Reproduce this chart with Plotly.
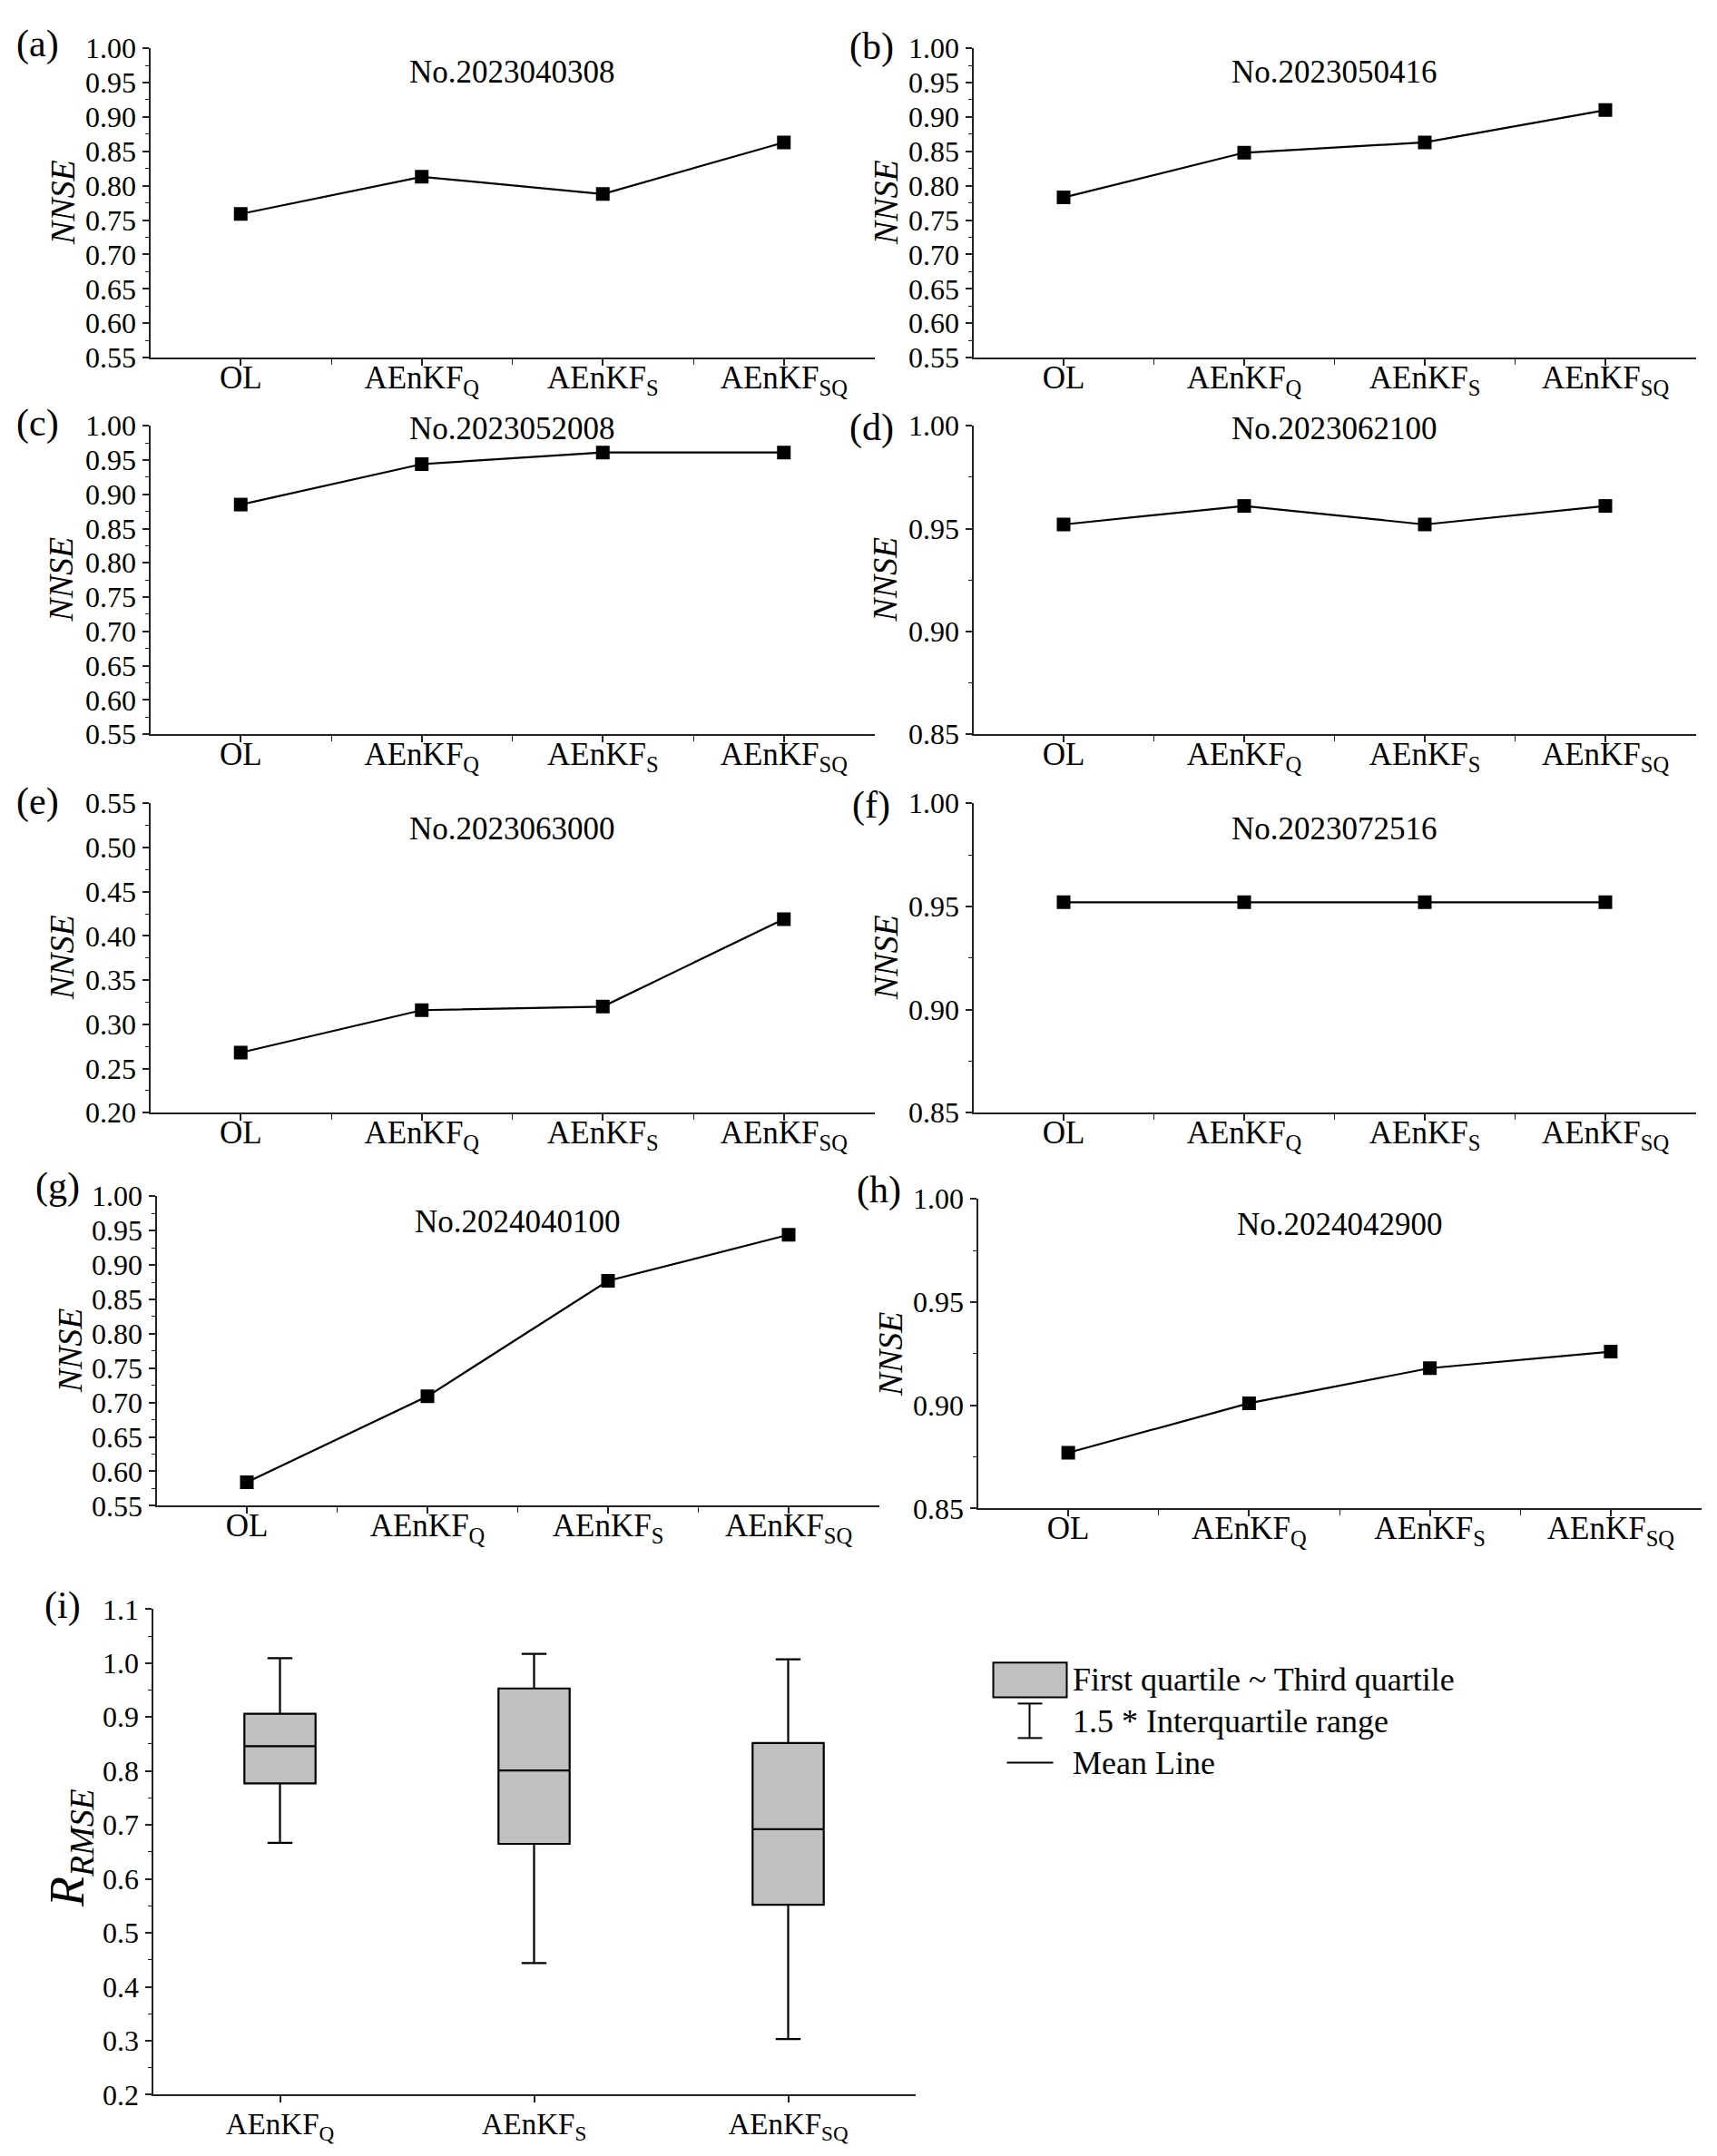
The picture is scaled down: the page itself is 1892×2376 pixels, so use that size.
import plotly.graph_objects as go

W, H = 1892, 2376
FONT = "Liberation Serif, Times New Roman, serif"

# ---------------- data ----------------
methods = ["OL", "AEnKF<sub>Q</sub>", "AEnKF<sub>S</sub>", "AEnKF<sub>SQ</sub>"]
panel_letters = ["(a)", "(b)", "(c)", "(d)", "(e)", "(f)", "(g)", "(h)"]
event_ids = ["No.2023040308", "No.2023050416", "No.2023052008", "No.2023062100",
             "No.2023063000", "No.2023072516", "No.2024040100", "No.2024042900"]

nnse_a = [0.759, 0.813, 0.788, 0.863]
nnse_b = [0.783, 0.848, 0.863, 0.910]
nnse_c = [0.885, 0.944, 0.961, 0.961]
nnse_d = [0.952, 0.961, 0.952, 0.961]
nnse_e = [0.268, 0.316, 0.320, 0.419]
nnse_f = [0.952, 0.952, 0.952, 0.952]
nnse_g = [0.584, 0.709, 0.877, 0.944]
nnse_h = [0.877, 0.901, 0.918, 0.926]
nnse_all = [nnse_a, nnse_b, nnse_c, nnse_d, nnse_e, nnse_f, nnse_g, nnse_h]

y_ranges = [[0.55, 1.00], [0.55, 1.00], [0.55, 1.00], [0.85, 1.00],
            [0.20, 0.55], [0.85, 1.00], [0.55, 1.00], [0.85, 1.00]]

box_methods = ["AEnKF<sub>Q</sub>", "AEnKF<sub>S</sub>", "AEnKF<sub>SQ</sub>"]
rrmse_lower = [0.667, 0.444, 0.303]
rrmse_q1 = [0.777, 0.665, 0.552]
rrmse_median = [0.846, 0.801, 0.692]
rrmse_q3 = [0.906, 0.953, 0.852]
rrmse_upper = [1.009, 1.017, 1.007]

legend_labels = ["First quartile ~ Third quartile", "1.5 * Interquartile range", "Mean Line"]

# ---------------- layout geometry (target pixels) ----------------
boxes = [
    (162, 960, 52, 393), (1069, 1865, 52, 393),
    (162, 960, 468, 808), (1069, 1865, 468, 808),
    (162, 960, 884, 1225), (1069, 1865, 884, 1225),
    (169, 965, 1317, 1658), (1074, 1871, 1320, 1661),
]
box_i = (165, 1005, 1772, 2307)
letter_pos = [(38, 47), (957, 50), (38, 465), (957, 470),
              (38, 882), (957, 886), (60, 1306), (965, 1310)]
title_y = [78, 78, 471, 471, 912, 912, 1345, 1348]
ytitle_x = [65, 972, 64, 972, 64, 972, 73, 977]

# small calibration of page placement
X_OFF = 4.5
Y_OFF, Y_SCALE = 24.9, 0.9847


def px(x):
    return (x - X_OFF) / W


def py(y):
    return 1 - ((y - Y_OFF) / Y_SCALE) / H


fig = go.Figure()
annotations = []
shapes = []

axis_line = dict(showline=True, linecolor="#222", linewidth=2, showgrid=False,
                 zeroline=False, ticks="outside", ticklen=7, tickwidth=1.5,
                 tickcolor="#222", tickfont=dict(family=FONT, size=32, color="black"))

for i in range(8):
    x0, x1, y0, y1 = boxes[i]
    n = "" if i == 0 else str(i + 1)
    fig.add_trace(go.Scatter(
        x=list(range(len(methods))), y=nnse_all[i], mode="lines+markers",
        line=dict(color="black", width=2.2),
        marker=dict(symbol="square", size=15, color="black"),
        xaxis="x" + n, yaxis="y" + n, showlegend=False))
    fig.layout["xaxis" + n] = dict(
        axis_line, domain=[px(x0), px(x1)], anchor="y" + n,
        range=[-0.5, 3.5], tickmode="array", tickvals=list(range(len(methods))),
        ticktext=methods, tickfont=dict(family=FONT, size=35, color="black"),
        ticklabelstandoff=-17,
        minor=dict(tickvals=[0.5, 1.5, 2.5], ticks="outside", ticklen=6,
                   tickwidth=1.2, tickcolor="#222"))
    fig.layout["yaxis" + n] = dict(
        axis_line, domain=[py(y1), py(y0)], anchor="x" + n,
        range=y_ranges[i], dtick=0.05, tick0=0, tickformat=".2f",
        minor=dict(dtick=0.025, ticks="outside", ticklen=4, tickwidth=1.2,
                   tickcolor="#222"))
    annotations.append(dict(text=panel_letters[i], x=px(letter_pos[i][0]),
                            y=py(letter_pos[i][1]), xref="paper", yref="paper",
                            showarrow=False, xanchor="center", yanchor="middle",
                            font=dict(family=FONT, size=42, color="black")))
    annotations.append(dict(text=event_ids[i], x=px((x0 + x1) / 2), y=py(title_y[i]),
                            xref="paper", yref="paper", showarrow=False,
                            xanchor="center", yanchor="middle",
                            font=dict(family=FONT, size=35, color="black")))
    annotations.append(dict(text="<i>NNSE</i>", x=px(ytitle_x[i]), y=py((y0 + y1) / 2),
                            xref="paper", yref="paper", showarrow=False, textangle=-90,
                            xanchor="center", yanchor="middle",
                            font=dict(family=FONT, size=38, color="black")))

# ---------------- panel (i): box plot ----------------
x0, x1, y0, y1 = box_i
fig.add_trace(go.Box(
    x=list(range(len(box_methods))), q1=rrmse_q1, median=rrmse_median, q3=rrmse_q3,
    lowerfence=rrmse_lower, upperfence=rrmse_upper, boxpoints=False,
    fillcolor="#c0c0c0", line=dict(color="black", width=2.2), width=0.28,
    whiskerwidth=0.35, xaxis="x9", yaxis="y9", showlegend=False, hoverinfo="skip"))
fig.layout["xaxis9"] = dict(
    axis_line, domain=[px(x0), px(x1)], anchor="y9", range=[-0.5, 2.5],
    tickmode="array", tickvals=list(range(len(box_methods))), ticktext=box_methods,
    tickfont=dict(family=FONT, size=33, color="black"), ticklabelstandoff=-5)
fig.layout["yaxis9"] = dict(
    axis_line, domain=[py(y1), py(y0)], anchor="x9", range=[0.2, 1.1],
    dtick=0.1, tick0=0, tickformat=".1f",
    minor=dict(dtick=0.05, ticks="outside", ticklen=4, tickwidth=1.2, tickcolor="#222"))
annotations.append(dict(text="(i)", x=px(65), y=py(1768), xref="paper", yref="paper",
                        showarrow=False, xanchor="center", yanchor="middle",
                        font=dict(family=FONT, size=42, color="black")))
annotations.append(dict(text="<i>R<sub>RMSE</sub></i>", x=px(74), y=py(2035),
                        xref="paper", yref="paper", showarrow=False, textangle=-90,
                        xanchor="center", yanchor="middle",
                        font=dict(family=FONT, size=54, color="black")))

# legend for panel (i)
shapes.append(dict(type="rect", xref="paper", yref="paper",
                   x0=px(1091), x1=px(1172), y0=py(1869), y1=py(1831),
                   fillcolor="#c0c0c0", line=dict(color="black", width=2)))
shapes.append(dict(type="line", xref="paper", yref="paper",
                   x0=px(1131), x1=px(1131), y0=py(1876), y1=py(1914),
                   line=dict(color="black", width=2)))
for yy in (1876, 1914):
    shapes.append(dict(type="line", xref="paper", yref="paper",
                       x0=px(1118), x1=px(1145), y0=py(yy), y1=py(yy),
                       line=dict(color="black", width=2)))
shapes.append(dict(type="line", xref="paper", yref="paper",
                   x0=px(1106), x1=px(1157), y0=py(1941), y1=py(1941),
                   line=dict(color="black", width=2)))
for lab, yy in zip(legend_labels, (1850, 1896, 1942)):
    annotations.append(dict(text=lab, x=px(1176), y=py(yy), xref="paper", yref="paper",
                            showarrow=False, xanchor="left", yanchor="middle",
                            font=dict(family=FONT, size=36, color="black")))

fig.update_layout(width=W, height=H, margin=dict(l=0, r=0, t=0, b=0),
                  paper_bgcolor="white", plot_bgcolor="white",
                  annotations=annotations, shapes=shapes,
                  font=dict(family=FONT, color="black"))

fig.write_html("out.html")
